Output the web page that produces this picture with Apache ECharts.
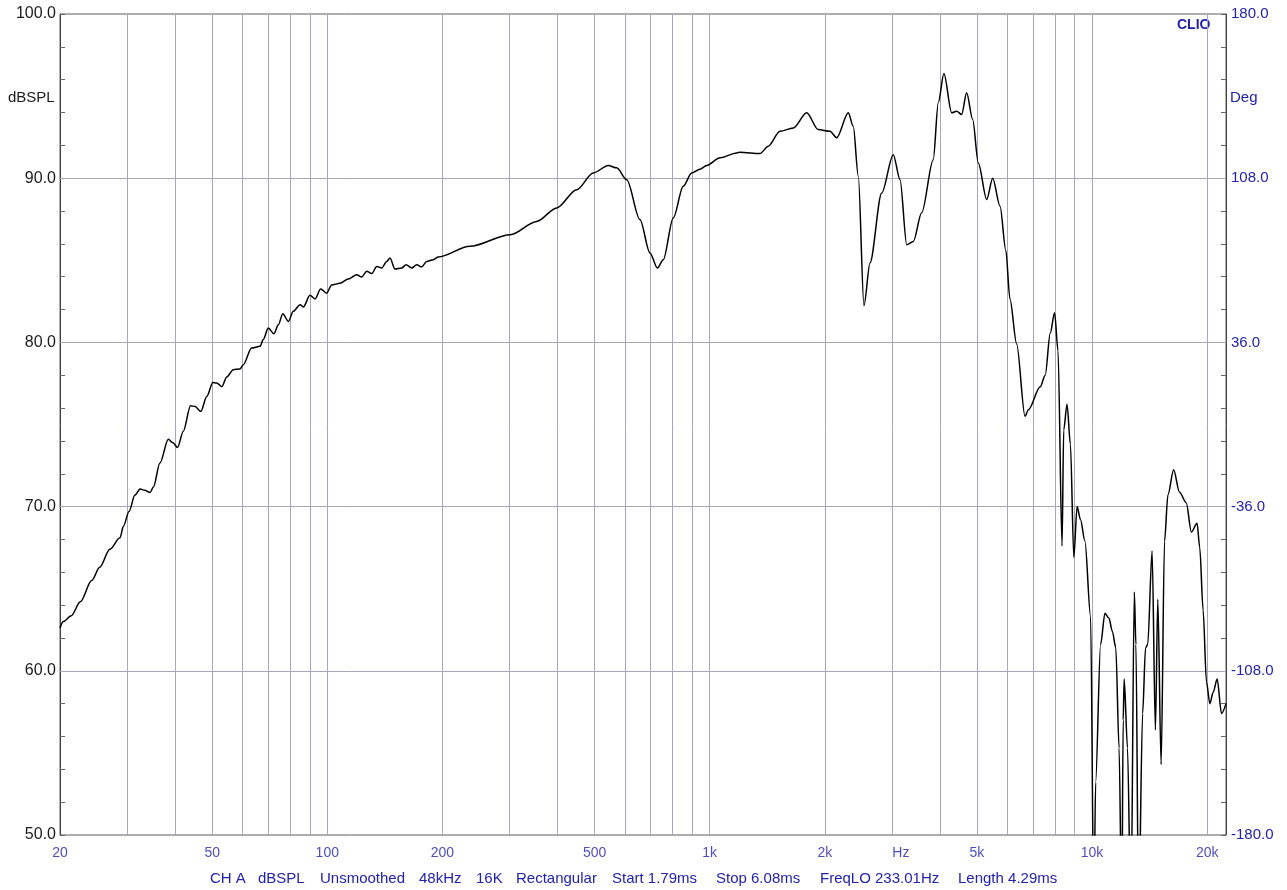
<!DOCTYPE html>
<html>
<head>
<meta charset="utf-8">
<script src="https://cdn.jsdelivr.net/npm/echarts@6/dist/echarts.min.js"></script>
<style>
html,body{margin:0;padding:0;background:#fff;}
#chart{width:1287px;height:890px;}
</style>
</head>
<body>
<div id="chart"></div>
<script>
// ---- data ----
const freqHz = [
  20, 20.4, 21.4, 22.6, 24.2, 25.4, 27.0, 28.7, 29.3, 30.3, 31.4, 32.4, 33.3, 34.4, 35.1, 36.5, 38.4, 39.4, 40.6, 42.0,
  43.9, 45.1, 46.7, 48.4, 50.2, 51.4, 53.0, 54.6, 56.8, 59.1, 60.3, 63.4, 66.7, 68.0, 70.1, 72.5, 74.5, 76.5, 79.1, 81.5,
  84.9, 86.6, 90.1, 92.9, 96.1, 99.6, 102.7, 107.9, 113.5, 119.4, 123.0, 126.8, 130.7, 134.7, 138.8, 143.0, 145.9, 150.3, 156.6, 160.7,
  166.3, 171.3, 176.6, 182.0, 189.3, 195.1, 236, 301, 353, 398, 449, 496, 543, 571, 607, 657, 698, 730, 756, 803,
  853, 897, 943, 982, 1064, 1177, 1200, 1354, 1423, 1527, 1655, 1793, 1923, 2064, 2149, 2304, 2374, 2447, 2532, 2626,
  2817, 3021, 3146, 3276, 3408, 3584, 3843, 3961, 4098, 4294, 4426, 4560, 4699, 4873, 5040, 5302, 5497, 5746, 5950, 6098,
  6350, 6678, 6816, 7318, 7542, 7772, 7980, 8146, 8346, 8430, 8600, 8778, 8960, 9138, 9328, 9578, 9912, 10110, 10216, 10526,
  10808, 11072, 11300, 11536, 11766, 11960, 12060, 12134, 12378, 12634, 12896, 13022, 13234, 13558, 13800, 13980, 14354, 14642, 14856, 15156,
  15470, 15788, 16340, 16936, 17632, 18184, 18818, 19126, 19514, 19918, 20324, 20734, 21240, 21800, 22400
];
const splDb = [
  62.6, 63.0, 63.35, 64.2, 65.5, 66.3, 67.4, 68.1, 68.8, 69.7, 70.7, 71.07, 71.0, 70.86, 71.2, 72.65, 74.1, 73.9, 73.6, 74.58,
  76.14, 76.1, 75.8, 76.7, 77.56, 77.53, 77.3, 77.9, 78.34, 78.38, 78.64, 79.66, 79.76, 80.17, 80.88, 80.53, 81.08, 81.75, 81.28, 81.89,
  82.3, 82.16, 82.87, 82.65, 83.25, 83.0, 83.5, 83.6, 83.86, 84.12, 83.98, 84.33, 84.19, 84.63, 84.53, 84.93, 85.14, 84.47, 84.53, 84.73,
  84.53, 84.73, 84.6, 84.93, 85.04, 85.2, 85.85, 86.56, 87.37, 88.19, 89.3, 90.32, 90.77, 90.63, 89.91, 87.48, 85.45, 84.53, 85.04, 87.58,
  89.51, 90.32, 90.55, 90.77, 91.24, 91.54, 91.58, 91.5, 91.95, 92.86, 93.06, 93.98, 92.96, 92.86, 92.46, 93.98, 93.16, 90.12, 82.24, 84.84,
  89.1, 91.43, 89.91, 85.95, 86.15, 87.89, 91.13, 94.6, 96.37, 93.98, 94.08, 93.88, 95.2, 93.57, 90.93, 88.7, 90.0, 88.29, 85.6, 82.65,
  79.9, 75.5, 75.9, 77.3, 78.0, 80.55, 81.8, 79.5, 67.6, 74.66, 76.24, 73.8, 66.9, 70.0, 69.2, 67.9, 63.3, 45, 53.2, 61.6,
  63.5, 63.2, 62.4, 61.4, 55.3, 45, 57.0, 59.5, 55.3, 45, 64.8, 61.6, 45, 57.4, 61.4, 61.6, 67.3, 56.4, 64.35, 54.3,
  67.9, 70.7, 72.24, 70.87, 70.24, 68.45, 68.98, 67.5, 63.7, 59.3, 58.0, 58.7, 59.5, 57.4, 58.0
];
const gridFreqs = [30, 40, 50, 60, 70, 80, 90, 100, 200, 300, 400, 500, 600, 700, 800, 900,
  1000, 2000, 3000, 4000, 5000, 6000, 7000, 8000, 9000, 10000, 20000];
const gridDb = [60, 70, 80, 90];
const xTickFreqs = [20, 50, 100, 200, 500, 1000, 2000, 3162, 5000, 10000, 20000];
const xTickLabels = ['20', '50', '100', '200', '500', '1k', '2k', 'Hz', '5k', '10k', '20k'];
const footerItems = ['CH A', 'dBSPL', 'Unsmoothed', '48kHz', '16K', 'Rectangular', 'Start 1.79ms', 'Stop 6.08ms', 'FreqLO 233.01Hz', 'Length 4.29ms'];

// ---- chart ----
const BLUE = '#2222a4';
const FONT = 'Liberation Sans, Arial, sans-serif';
const chart = echarts.init(document.getElementById('chart'), null, {renderer: 'canvas'});

const curve = freqHz.map((f, i) => [f, splDb[i]]);
const footerX = [210, 258, 320, 419, 476, 516, 612, 716, 820, 958];

const option = {
  animation: false,
  backgroundColor: '#ffffff',
  textStyle: {fontFamily: FONT},
  grid: {left: 60, right: 61, top: 14, bottom: 55, show: true, borderColor: '#5a5a5a', borderWidth: 1, containLabel: false},
  xAxis: {
    type: 'log', logBase: 10, min: 20, max: 22400,
    axisLine: {show: false}, axisTick: {show: false}, axisLabel: {show: false}, splitLine: {show: false}
  },
  yAxis: [
    {
      type: 'value', min: 50, max: 100, interval: 2, position: 'left',
      axisLine: {show: true, lineStyle: {color: '#444', width: 1}},
      axisTick: {show: true, inside: true, length: 5, lineStyle: {color: '#666'}},
      axisLabel: {
        margin: 4, fontSize: 16, color: '#1a1a1a', fontFamily: FONT, padding: [4, 0, 0, 0],
        formatter: v => (Math.round(v) % 10 === 0 ? v.toFixed(1) : '')
      },
      splitLine: {show: false}
    },
    {
      type: 'value', min: -180, max: 180, interval: 14.4, position: 'right',
      axisLine: {show: true, lineStyle: {color: '#444', width: 1}},
      axisTick: {show: true, inside: true, length: 5, lineStyle: {color: '#666'}},
      axisLabel: {
        margin: 5, fontSize: 15, color: BLUE, fontFamily: FONT, padding: [3, 0, 0, 0],
        formatter: v => ((Math.round(v * 10) + 1800) % 720 === 0 ? v.toFixed(1) : '')
      },
      splitLine: {show: false}
    }
  ],
  series: [
    {
      type: 'line', data: [], z: 1, silent: true,
      markLine: {
        silent: true, symbol: ['none', 'none'], animation: false,
        label: {show: false},
        lineStyle: {color: '#a6a6b8', width: 1, type: 'solid'},
        data: gridFreqs.map(f => ({xAxis: f})).concat(gridDb.map(d => ({yAxis: d})))
      }
    },
    {
      type: 'line', data: curve, z: 5, showSymbol: false, symbol: 'none', clip: true,
      smooth: 0.3, smoothMonotone: 'x',
      lineStyle: {color: '#000000', width: 1.5}
    },
    {
      type: 'scatter', z: 4, silent: true, clip: false, symbolSize: 0,
      data: xTickFreqs.map(f => [f, 50]),
      label: {
        show: true, position: 'bottom', distance: 11, fontSize: 14, color: BLUE, fontFamily: FONT,
        formatter: p => xTickLabels[p.dataIndex]
      }
    }
  ],
  graphic: [
    {type: 'text', left: 8, top: 90, style: {text: 'dBSPL', fontSize: 15, fill: '#1a1a1a', fontFamily: FONT}},
    {type: 'text', left: 1230, top: 90, style: {text: 'Deg', fontSize: 15, fill: BLUE, fontFamily: FONT}},
    {type: 'text', left: 1177, top: 18, style: {text: 'CLIO', fontSize: 14, fontWeight: 'bold', fill: BLUE, fontFamily: FONT}}
  ].concat(footerItems.map((t, i) => ({
    type: 'text', left: footerX[i], top: 871, style: {text: t, fontSize: 15, fill: BLUE, fontFamily: FONT}
  })))
};
chart.setOption(option);
</script>
</body>
</html>
